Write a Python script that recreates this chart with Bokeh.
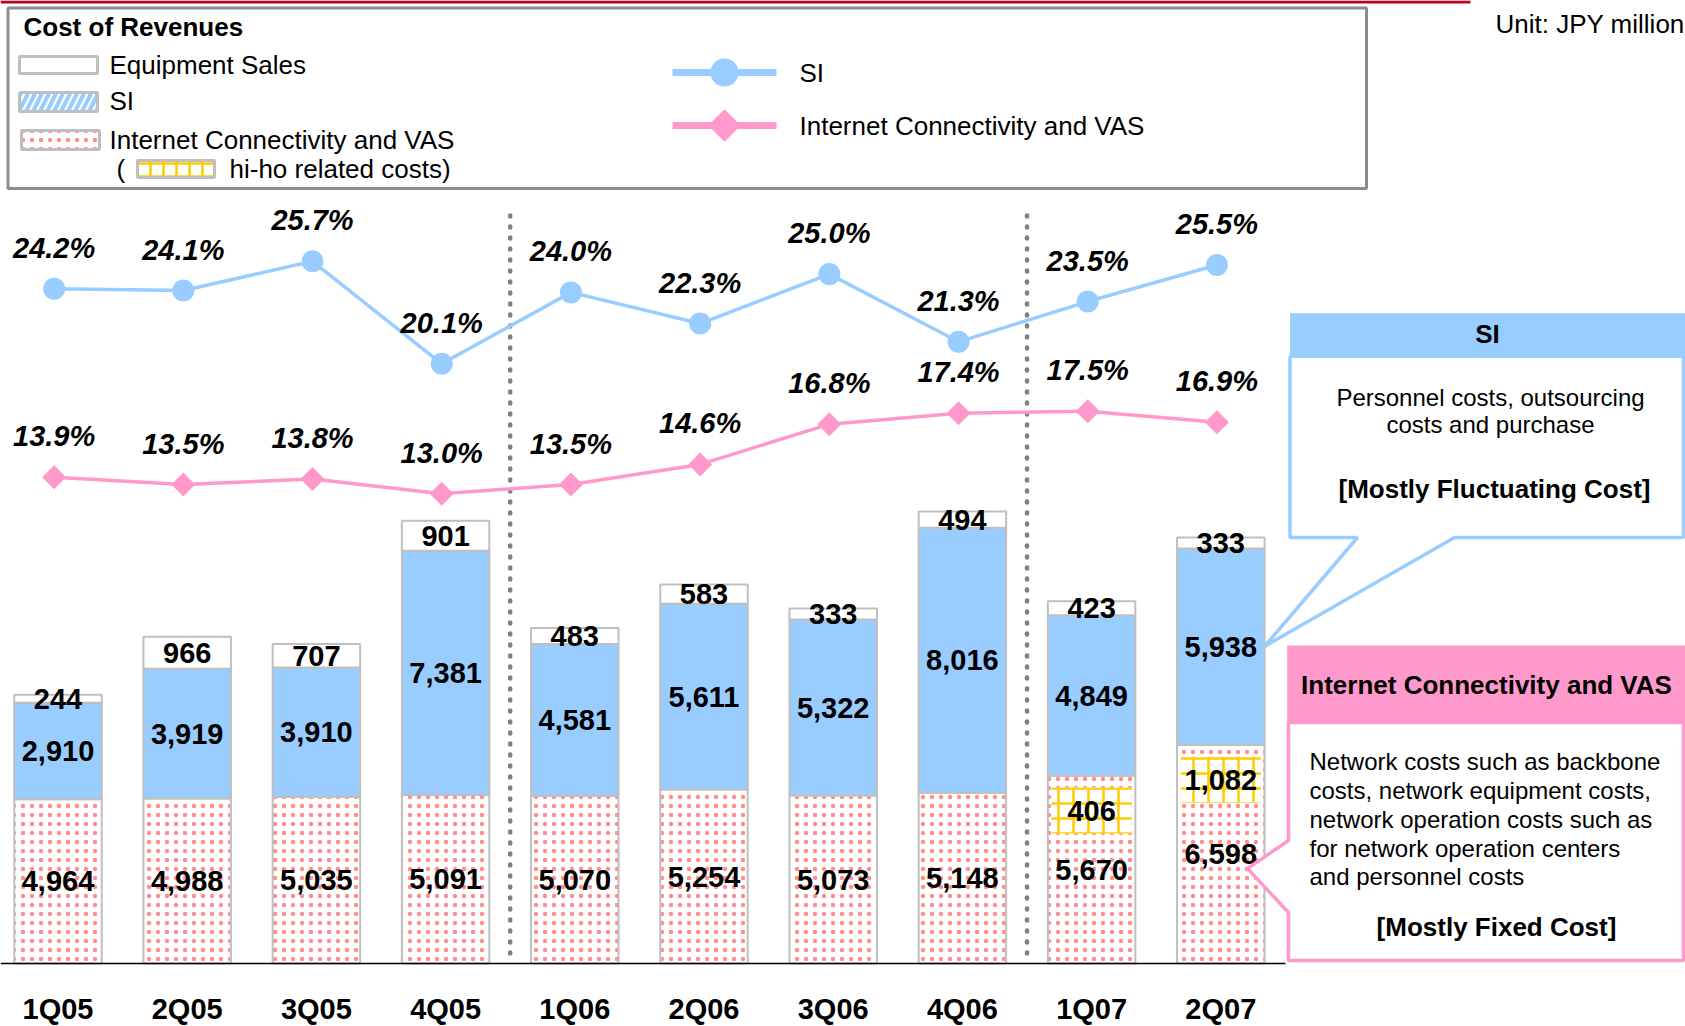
import numpy as np
from bokeh.plotting import figure
from bokeh.models import Range1d, ColumnDataSource
from bokeh.embed import file_html
from bokeh.resources import INLINE
from bokeh.core.properties import value
from bokeh.transform import dodge

# ---------------- data ----------------
quarters = ["1Q05", "2Q05", "3Q05", "4Q05", "1Q06", "2Q06", "3Q06", "4Q06", "1Q07", "2Q07"]
icv_cost = [4964, 4988, 5035, 5091, 5070, 5254, 5073, 5148, 5670, 6598]
si_cost = [2910, 3919, 3910, 7381, 4581, 5611, 5322, 8016, 4849, 5938]
equip_cost = [244, 966, 707, 901, 483, 583, 333, 494, 423, 333]
hiho_quarters = ["1Q07", "2Q07"]
hiho_cost = [406, 1082]
si_ratio = [24.2, 24.1, 25.7, 20.1, 24.0, 22.3, 25.0, 21.3, 23.5, 25.5]
icv_ratio = [13.9, 13.5, 13.8, 13.0, 13.5, 14.6, 16.8, 17.4, 17.5, 16.9]

# ---------------- layout ----------------
W, H, OFF = 1685, 1026, 0
SLOT = 129.2          # px per quarter
X0 = 57.5             # page x of first bar centre
K = 0.0331            # px per JPY million
BASE = 963            # page y of bar baseline
PK = 18.3             # px per percentage point
P13 = 493.2           # page y of 13.0 %

xs = (OFF - X0) / SLOT
xe = xs + W / SLOT
ys = -(OFF + H - BASE) / K
ye = ys + H / K
ps = 13 - (OFF + H - P13) / PK
pe = ps + H / PK

FONT = value("Liberation Sans")
BLUE = "#99CCFF"
PINK = "#FF99CC"
GRAY = "#BFBFBF"
DOTS = dict(hatch_pattern="dot", hatch_color="#FF2020", hatch_scale=9,
            hatch_alpha=0.5)

p = figure(width=W, height=H, x_range=Range1d(xs, xe), y_range=Range1d(ys, ye),
           output_backend="svg", toolbar_location=None, min_border=0,
           x_axis_type=None, y_axis_type=None)
p.grid.visible = False
p.outline_line_color = None
p.background_fill_color = "white"
p.extra_y_ranges = {"pct": Range1d(ps, pe), "py": Range1d(OFF + H, OFF)}
p.extra_x_ranges = {"px": Range1d(OFF, OFF + W)}
PXY = dict(x_range_name="px", y_range_name="py")

idx = np.arange(len(quarters))
icv = np.array(icv_cost, dtype=float)
si = np.array(si_cost, dtype=float)
eq = np.array(equip_cost, dtype=float)

src = ColumnDataSource(dict(
    x=idx, q=quarters,
    icv_top=icv, si_top=icv + si, eq_top=icv + si + eq,
    icv_mid=icv / 2, si_mid=icv + si / 2, eq_mid=icv + si + eq / 2,
    icv_lbl=[f"{v:,.0f}" for v in icv_cost],
    si_lbl=[f"{v:,.0f}" for v in si_cost],
    eq_lbl=[f"{v:,.0f}" for v in equip_cost],
    si_r=si_ratio, icv_r=icv_ratio,
    si_r_lbl=[f"{v:.1f}%" for v in si_ratio],
    icv_r_lbl=[f"{v:.1f}%" for v in icv_ratio],
))

# top red band
p.quad(left=[0], right=[1470], top=[0], bottom=[3], fill_color="#C0001E",
       line_color=None, **PXY)

# year separators (between Q4 and Q1)
breaks = [i - 0.5 for i, q in enumerate(quarters) if q.startswith("1Q") and i > 0]
p.segment(x0=breaks, x1=breaks, y0=[215] * len(breaks), y1=[960] * len(breaks),
          line_color="#808080", line_width=4.5, line_dash="1 10", line_cap="round",
          y_range_name="py")

BW = 0.677
# stacked bars
p.vbar(x="x", bottom=0, top="icv_top", width=BW, source=src, fill_color="white",
       line_color=GRAY, line_width=2, **DOTS)
p.vbar(x="x", bottom="icv_top", top="si_top", width=BW, source=src, fill_color=BLUE,
       line_color=GRAY, line_width=2)
p.vbar(x="x", bottom="si_top", top="eq_top", width=BW, source=src, fill_color="white",
       line_color=GRAY, line_width=2)

# hi-ho related costs (highlight inside ICV segment)
hiho_x = [quarters.index(q) for q in hiho_quarters]
hiho_y = [icv_cost[i] - 1050 for i in hiho_x]
p.rect(x=hiho_x, y=hiho_y, width=0.62, height=46, height_units="screen",
       fill_color="white", line_color=None, hatch_pattern="cross",
       hatch_color="#FFCC00", hatch_scale=15, hatch_weight=2.5)

# baseline
p.segment(x0=[xs], x1=[len(quarters) - 0.5], y0=[0], y1=[0], line_color="black",
          line_width=1.5)

lbl = dict(text_font=FONT, text_font_style="bold", text_font_size="29px",
           text_align="center", text_baseline="middle", text_color="black")
p.text(x="x", y="icv_mid", text="icv_lbl", source=src, **lbl)
p.text(x="x", y="si_mid", text="si_lbl", source=src, **lbl)
p.text(x="x", y="eq_mid", text="eq_lbl", source=src, **lbl)
p.text(x=hiho_x, y=hiho_y, text=[f"{v:,.0f}" for v in hiho_cost], **lbl)

# category labels
p.text(x="x", y=1008, text="q", source=src, y_range_name="py", **lbl)

# ratio lines
dx = dodge("x", -0.03)
p.line(x=dx, y="si_r", source=src, y_range_name="pct", line_color=BLUE, line_width=3.5)
p.scatter(x=dx, y="si_r", source=src, y_range_name="pct", marker="circle", size=22,
          fill_color=BLUE, line_color=None)
p.line(x=dx, y="icv_r", source=src, y_range_name="pct", line_color=PINK, line_width=3.5)
p.scatter(x=dx, y="icv_r", source=src, y_range_name="pct", marker="square",
          angle=np.pi / 4, size=17, fill_color=PINK, line_color=None)
plbl = dict(text_font=FONT, text_font_style="bold italic", text_font_size="29px",
            text_align="center", text_baseline="middle", text_color="black",
            y_offset=-41, y_range_name="pct")
p.text(x=dx, y="si_r", text="si_r_lbl", source=src, **plbl)
p.text(x=dx, y="icv_r", text="icv_r_lbl", source=src, **plbl)

# ---------------- legend box ----------------
p.quad(left=[7.5], right=[1366], top=[7.5], bottom=[188], fill_color=None,
       line_color="#8C8C8C", line_width=3, **PXY)
txt = dict(text_font=FONT, text_font_size="26px", text_baseline="middle",
           text_color="black", **PXY)
p.text(x=[23], y=[26], text=["Cost of Revenues"], text_font_style="bold", **txt)
p.quad(left=[19], right=[97], top=[56], bottom=[73], fill_color="white",
       line_color=GRAY, line_width=3, **PXY)
p.quad(left=[19], right=[97], top=[92], bottom=[111], fill_color="white",
       hatch_pattern="right_diagonal_line", hatch_color=BLUE, hatch_scale=14,
       hatch_weight=4, line_color=GRAY, line_width=3, **PXY)
p.quad(left=[21], right=[99], top=[130], bottom=[149], fill_color="white",
       line_color=GRAY, line_width=3, **PXY, **DOTS)
p.quad(left=[137], right=[214], top=[160], bottom=[177], fill_color="white",
       hatch_pattern="cross", hatch_color="#FFCC00", hatch_scale=13, hatch_weight=2.5,
       line_color=GRAY, line_width=3, **PXY)
p.text(x=[109, 109, 109, 116, 229], y=[64, 100, 139, 168, 168],
       text=["Equipment Sales", "SI", "Internet Connectivity and VAS", "(",
             "hi-ho related costs)"], **txt)
p.segment(x0=[672, 672], x1=[776, 776], y0=[72, 125], y1=[72, 125],
          line_color=[BLUE, PINK], line_width=7, **PXY)
p.scatter(x=[724], y=[72], marker="circle", size=28, fill_color=BLUE,
          line_color=None, **PXY)
p.scatter(x=[724], y=[125], marker="square", angle=np.pi / 4, size=23,
          fill_color=PINK, line_color=None, **PXY)
p.text(x=[799, 799], y=[72, 125], text=["SI", "Internet Connectivity and VAS"], **txt)
p.text(x=[1495], y=[23], text=["Unit: JPY million"], text_font=FONT,
       text_font_size="26px", text_baseline="middle", text_color="black", **PXY)

# ---------------- callouts ----------------
R = 1683
p.quad(left=[1289.5], right=[1690], top=[312.7], bottom=[355.7], fill_color=BLUE,
       line_color=None, **PXY)
p.patch(x=[1289.5, R, R, 1454, 1264, 1357, 1289.5],
        y=[355.7, 355.7, 537, 537, 646, 537, 537],
        fill_color="white", line_color=BLUE, line_width=3.5, **PXY)
p.quad(left=[1286.7], right=[1690], top=[645], bottom=[722], fill_color=PINK,
       line_color=None, **PXY)
p.patch(x=[1288, R, R, 1288, 1288, 1247, 1288],
        y=[722, 722, 960, 960, 912, 868, 840],
        fill_color="white", line_color=PINK, line_width=3.5, **PXY)

ctr = dict(text_font=FONT, text_align="center", text_baseline="middle",
           text_color="black", **PXY)
p.text(x=[1487], y=[333], text=["SI"], text_font_size="26px", text_font_style="bold", **ctr)
p.text(x=[1490, 1490], y=[397, 424],
       text=["Personnel costs, outsourcing", "costs and purchase"],
       text_font_size="24px", **ctr)
p.text(x=[1494], y=[488], text=["[Mostly Fluctuating Cost]"], text_font_size="26px",
       text_font_style="bold", **ctr)
p.text(x=[1486], y=[684], text=["Internet Connectivity and VAS"], text_font_size="26px",
       text_font_style="bold", **ctr)
p.text(x=[1309] * 5, y=[761, 790, 819, 848, 876],
       text=["Network costs such as backbone", "costs, network equipment costs,",
             "network operation costs such as", "for network operation centers",
             "and personnel costs"],
       text_font=FONT, text_font_size="24px", text_baseline="middle",
       text_color="black", **PXY)
p.text(x=[1496], y=[926], text=["[Mostly Fixed Cost]"], text_font_size="26px",
       text_font_style="bold", **ctr)

open("out.html", "w").write(file_html(p, INLINE))
